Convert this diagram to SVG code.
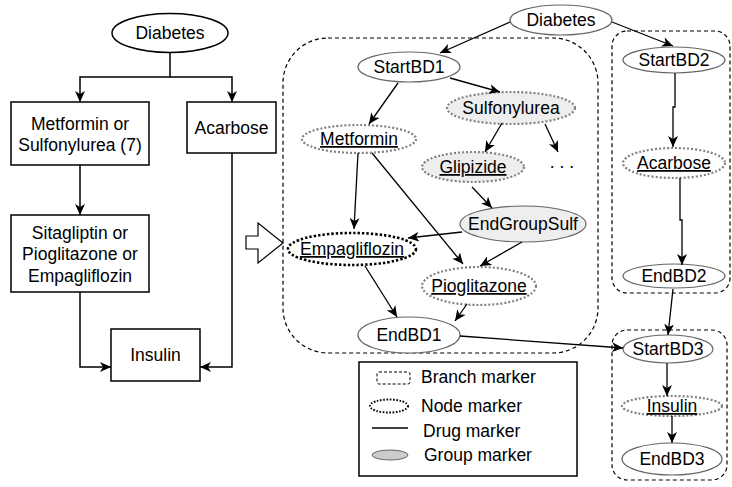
<svg xmlns="http://www.w3.org/2000/svg" width="732" height="487" viewBox="0 0 732 487">
<defs>
<marker id="ah" markerUnits="userSpaceOnUse" markerWidth="12" markerHeight="10" refX="11" refY="5" orient="auto">
<path d="M0,0 L11,5 L0,10 L3,5 z" fill="#000"/>
</marker>
<style>
text{font-family:"Liberation Sans",Arial,sans-serif;font-size:17.5px;fill:#000}
.c{text-anchor:middle}
.u{text-decoration:underline}
.box{fill:#fff;stroke:#000;stroke-width:1.5}
.e{fill:#fff;stroke:#666;stroke-width:1.2}
.dg{fill:#fff;stroke:#808080;stroke-width:2.2;stroke-dasharray:2 2}
.dk{fill:#fff;stroke:#000;stroke-width:2.6;stroke-dasharray:2.4 2}
.br{fill:none;stroke:#000;stroke-width:1.2;stroke-dasharray:4 3}
.ln{fill:none;stroke:#000;stroke-width:1.3}
.lnl{fill:none;stroke:#000;stroke-width:1.5}
</style>
</defs>

<!-- Left flowchart -->
<g id="l-diabetes"><ellipse cx="170" cy="33" rx="58" ry="19.5" fill="#fff" stroke="#000" stroke-width="1.5"/><text class="c" x="170" y="39">Diabetes</text></g>
<g id="l-metformin"><rect class="box" x="11" y="102" width="138" height="63"/><text class="c" x="80" y="130">Metformin or</text><text class="c" x="80" y="151">Sulfonylurea (7)</text></g>
<g id="l-acarbose"><rect class="box" x="187" y="102" width="89" height="51"/><text class="c" x="231.5" y="134">Acarbose</text></g>
<g id="l-sitagliptin"><rect class="box" x="11" y="215" width="138" height="77"/><text class="c" x="80" y="239">Sitagliptin or</text><text class="c" x="80" y="260">Pioglitazone or</text><text class="c" x="80" y="282">Empagliflozin</text></g>
<g id="l-insulin"><rect class="box" x="111" y="329" width="89" height="52"/><text class="c" x="155.5" y="361">Insulin</text></g>

<g id="l-connectors">
<path class="lnl" d="M170,52.5 V77 H80 V102" marker-end="url(#ah)"/>
<path class="lnl" d="M170,77 H232 V102" marker-end="url(#ah)"/>
<path class="lnl" d="M80,165 V215" marker-end="url(#ah)"/>
<path class="lnl" d="M80,292 V367 H111" marker-end="url(#ah)"/>
<path class="lnl" d="M232,153 V367 H200" marker-end="url(#ah)"/>
</g>

<!-- Block arrow -->
<g id="block-arrow"><polygon points="246,236 258,236 258,223 283,243 258,263 258,249 246,249" fill="#fff" stroke="#000" stroke-width="1.2"/></g>

<!-- Branch containers -->
<g id="bd1-box"><rect class="br" x="283" y="38" width="315" height="315" rx="45" ry="45"/></g>
<g id="bd2-box"><rect class="br" x="612" y="31" width="118" height="262" rx="15" ry="15"/></g>
<g id="bd3-box"><rect class="br" x="612" y="330" width="115" height="150" rx="15" ry="15"/></g>

<!-- Right nodes -->
<g id="r-diabetes"><ellipse class="e" cx="561" cy="20" rx="51" ry="15"/><text class="c" x="561" y="26">Diabetes</text></g>
<g id="startbd1"><ellipse class="e" cx="409" cy="67" rx="51" ry="15"/><text class="c" x="409" y="73">StartBD1</text></g>
<g id="sulfonylurea"><ellipse class="dg" cx="511" cy="108" rx="64" ry="16" style="fill:#eee"/><text class="c" x="511" y="114">Sulfonylurea</text></g>
<g id="metformin"><ellipse class="dg" cx="359" cy="139" rx="57" ry="14"/><text class="c u" x="359" y="145">Metformin</text></g>
<g id="glipizide"><ellipse class="dg" cx="473" cy="167" rx="51" ry="15" style="fill:#eee"/><text class="c u" x="473" y="173">Glipizide</text></g>
<g id="ellipsis"><text class="c" x="562" y="168">. . .</text></g>
<g id="endgroupsulf"><ellipse class="e" cx="523" cy="224" rx="63" ry="18" style="fill:#eee"/><text class="c" x="523" y="230">EndGroupSulf</text></g>
<g id="empagliflozin"><ellipse class="dk" cx="352" cy="249" rx="64" ry="16"/><text class="c u" x="352" y="255">Empagliflozin</text></g>
<g id="pioglitazone"><ellipse class="dg" cx="479" cy="286" rx="57" ry="19"/><text class="c u" x="479" y="292">Pioglitazone</text></g>
<g id="endbd1"><ellipse class="e" cx="409" cy="335" rx="51" ry="18"/><text class="c" x="409" y="341">EndBD1</text></g>
<g id="startbd2"><ellipse class="e" cx="674" cy="60" rx="51" ry="13"/><text class="c" x="674" y="66">StartBD2</text></g>
<g id="acarbose"><ellipse class="dg" cx="674" cy="163" rx="51" ry="15"/><text class="c u" x="674" y="169">Acarbose</text></g>
<g id="endbd2"><ellipse class="e" cx="674" cy="276" rx="51" ry="12"/><text class="c" x="674" y="282">EndBD2</text></g>
<g id="startbd3"><ellipse class="e" cx="668" cy="349" rx="45" ry="14"/><text class="c" x="668" y="355">StartBD3</text></g>
<g id="insulin"><ellipse class="dg" cx="672" cy="406" rx="50" ry="10"/><text class="c u" x="672" y="412">Insulin</text></g>
<g id="endbd3"><ellipse class="e" cx="672" cy="459" rx="50" ry="16"/><text class="c" x="672" y="465">EndBD3</text></g>

<g id="r-connectors">
<line class="ln" x1="510" y1="22" x2="440" y2="53" marker-end="url(#ah)"/>
<line class="ln" x1="612" y1="22" x2="673" y2="46" marker-end="url(#ah)"/>
<line class="ln" x1="450" y1="78" x2="500" y2="92" marker-end="url(#ah)"/>
<line class="ln" x1="398" y1="83" x2="369" y2="124" marker-end="url(#ah)"/>
<line class="ln" x1="502" y1="123" x2="485" y2="152" marker-end="url(#ah)"/>
<line class="ln" x1="545" y1="124" x2="558" y2="152" marker-end="url(#ah)"/>
<line class="ln" x1="358" y1="153" x2="354" y2="229" marker-end="url(#ah)"/>
<line class="ln" x1="372" y1="153" x2="463" y2="264" marker-end="url(#ah)"/>
<line class="ln" x1="472" y1="187" x2="492" y2="208" marker-end="url(#ah)"/>
<line class="ln" x1="462" y1="232" x2="408" y2="238" marker-end="url(#ah)"/>
<line class="ln" x1="522" y1="242" x2="480" y2="266" marker-end="url(#ah)"/>
<line class="ln" x1="365" y1="266" x2="397" y2="317" marker-end="url(#ah)"/>
<line class="ln" x1="467" y1="304" x2="455" y2="321" marker-end="url(#ah)"/>
<line class="ln" x1="460" y1="336" x2="623" y2="348" marker-end="url(#ah)"/>
<path class="ln" d="M675,73 V107 H673 V147" marker-end="url(#ah)"/>
<path class="ln" d="M680,178 V220 H682 V265" marker-end="url(#ah)"/>
<line class="ln" x1="673" y1="289" x2="668" y2="335" marker-end="url(#ah)"/>
<line class="ln" x1="667" y1="363" x2="667" y2="396" marker-end="url(#ah)"/>
<line class="ln" x1="672" y1="416" x2="672" y2="443" marker-end="url(#ah)"/>
</g>

<!-- Legend -->
<g id="legend">
<rect x="359" y="362" width="218" height="114" fill="#fff" stroke="#000" stroke-width="1.5"/>
<rect x="377" y="372" width="33" height="12" rx="2" fill="none" stroke="#000" stroke-width="1" stroke-dasharray="3 2"/>
<text x="421" y="383">Branch marker</text>
<ellipse cx="389" cy="406" rx="19" ry="6.5" fill="none" stroke="#000" stroke-width="2" stroke-dasharray="1.6 1.6"/>
<text x="421" y="412">Node marker</text>
<line x1="372" y1="428" x2="408" y2="428" stroke="#000" stroke-width="1.3"/>
<text x="423" y="437">Drug marker</text>
<ellipse cx="390" cy="455" rx="18" ry="5" fill="#ccc" stroke="#666" stroke-width="1"/>
<text x="424" y="461">Group marker</text>
</g>
</svg>
